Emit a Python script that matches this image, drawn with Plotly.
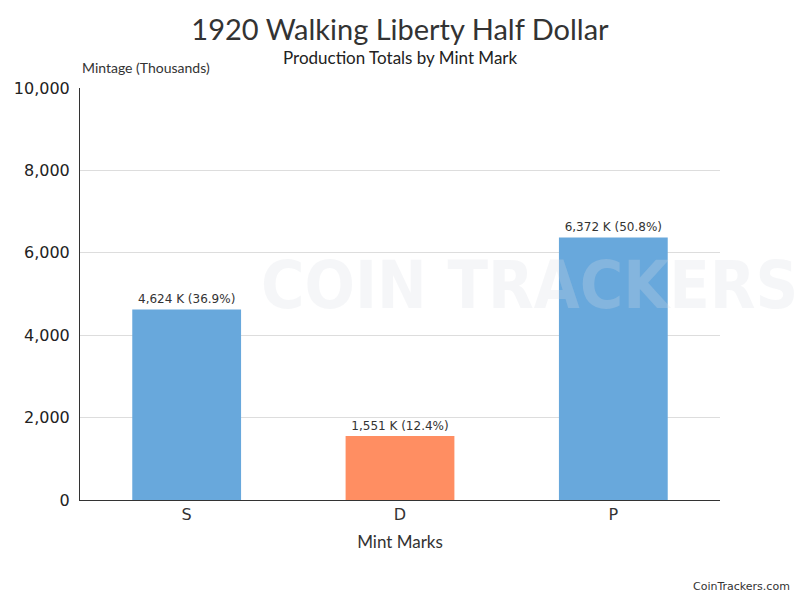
import plotly.graph_objects as go

# 1920 Walking Liberty Half Dollar mintage, thousands
mint_marks = ["S", "D", "P"]
mintage = [4624, 1551, 6372]
bar_colors = ["#68a8dc", "#ff8e62", "#68a8dc"]
y_ticks = [0, 2000, 4000, 6000, 8000, 10000]

total = sum(mintage)
labels = ["{:,} K ({:.1f}%)".format(v, v / total * 100) for v in mintage]

fig = go.Figure()
fig.add_trace(go.Bar(
    x=mint_marks, y=mintage,
    marker=dict(color=bar_colors, line=dict(width=0)),
    width=0.51,
    text=labels, textposition="outside", cliponaxis=False,
    textfont=dict(family="DejaVu Sans", size=12, color="#333333"),
    hoverinfo="skip",
))

fig.update_layout(
    width=800, height=600,
    margin=dict(l=80, r=80, t=88, b=100, autoexpand=False),
    paper_bgcolor="white", plot_bgcolor="rgba(0,0,0,0)",
    showlegend=False,
    title=dict(text="1920 Walking Liberty Half Dollar", x=0.5, xanchor="center",
               y=0.95, yanchor="middle",
               font=dict(family="Lato", size=29, color="#333333")),
    xaxis=dict(
        showline=True, linecolor="#333333", linewidth=1,
        showgrid=False, ticks="", automargin=False,
        tickfont=dict(family="DejaVu Sans", size=16, color="#333333"),
        title=dict(text="Mint Marks", font=dict(family="Lato", size=17, color="#333333"),
                   standoff=12),
    ),
    yaxis=dict(
        range=[0, 10000], tickvals=y_ticks, tickformat=",",
        showline=True, linecolor="#333333", linewidth=1, automargin=False,
        showgrid=True, gridcolor="#dddddd", gridwidth=1, zeroline=False,
        tickfont=dict(family="DejaVu Sans", size=16, color="#222222"),
        ticks="", ticklabelstandoff=6,
    ),
    bargap=0.49,
)

# faint watermark
fig.add_annotation(text="<b>COIN TRACKERS</b>", xref="paper", yref="paper", x=1.125, y=0.52,
                   xanchor="right", yanchor="middle", showarrow=False,
                   font=dict(family="DejaVu Sans Condensed", size=66, color="rgba(215,220,228,0.25)"))

fig.add_annotation(text="Production Totals by Mint Mark", xref="paper", yref="paper",
                   x=0.5, y=1.0, yshift=31, xanchor="center", yanchor="middle", showarrow=False,
                   font=dict(family="Lato", size=17, color="#222222"))
fig.add_annotation(text="Mintage (Thousands)", xref="paper", yref="paper",
                   x=0, y=1.0, yshift=21, xanchor="left", yanchor="middle", showarrow=False,
                   font=dict(family="Lato", size=14, color="#333333"))
fig.add_annotation(text="CoinTrackers.com", xref="paper", yref="paper",
                   x=1.0, y=0, xshift=72, yshift=-86, xanchor="right", yanchor="middle",
                   showarrow=False,
                   font=dict(family="DejaVu Sans", size=11, color="#333333"))

# drop the page's default body margin so the figure sits at the window origin
fig.write_html("out.html", config={"displayModeBar": False},
               post_script="document.body.style.margin='0';")
